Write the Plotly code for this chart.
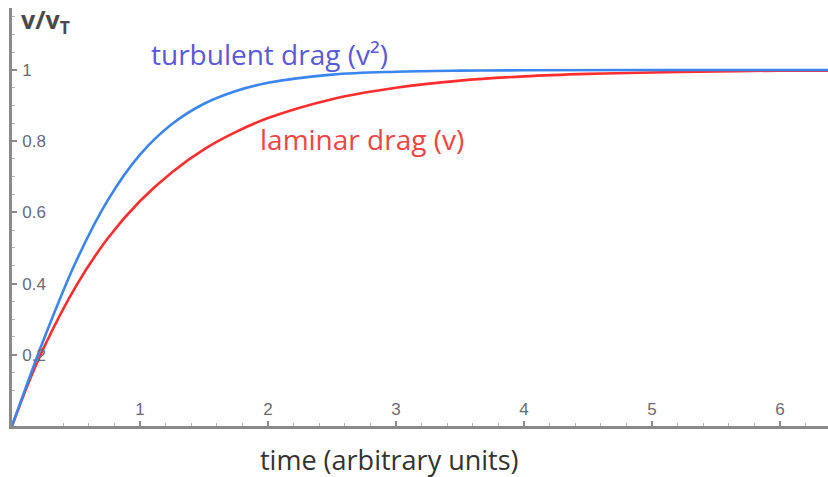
import plotly.graph_objects as go

# time samples (arbitrary units) and normalized speed v/vT for each drag law
t_turb = [0, 0.1, 0.25, 0.5, 0.75, 1.0, 1.25, 1.5, 1.75, 2.0, 2.5, 3.0, 3.5, 4.0, 5.0, 6.4]
v_turb = [0, 0.10, 0.245, 0.462, 0.635, 0.762, 0.848, 0.905, 0.941, 0.964, 0.987, 0.995, 0.998, 0.999, 1.0, 1.0]

t_lam = [0, 0.1, 0.25, 0.5, 0.75, 1.0, 1.25, 1.5, 1.75, 2.0, 2.5, 3.0, 3.5, 4.0, 4.5, 5.0, 5.5, 6.0, 6.4]
v_lam = [0, 0.095, 0.221, 0.393, 0.528, 0.632, 0.713, 0.777, 0.826, 0.865, 0.918, 0.950, 0.970, 0.982, 0.989, 0.993, 0.996, 0.998, 0.998]

x_ticks = [1, 2, 3, 4, 5, 6]
y_ticks = [0.2, 0.4, 0.6, 0.8, 1.0]
y_tick_text = ["0.2", "0.4", "0.6", "0.8", "1"]

BLUE = "#3a86ee"
RED = "#ff2d2d"
AXIS = "#8a8a8a"
FONT = "Open Sans"
TICKFONT = dict(size=17, color="#6a6a78", family="Liberation Sans")

fig = go.Figure()
fig.add_trace(go.Scatter(x=t_lam, y=v_lam, mode="lines",
                         line=dict(color=RED, width=2.6, shape="spline", smoothing=1.0)))
fig.add_trace(go.Scatter(x=t_turb, y=v_turb, mode="lines",
                         line=dict(color=BLUE, width=2.6, shape="spline", smoothing=1.0)))

fig.update_layout(
    width=828, height=477,
    margin=dict(l=12, r=0, t=8, b=51),
    paper_bgcolor="white", plot_bgcolor="white",
    showlegend=False,
    font=dict(family=FONT),
    xaxis=dict(
        range=[0, 6.375], showgrid=False, zeroline=False,
        showline=True, linecolor=AXIS, linewidth=2.5,
        tickvals=x_ticks, ticks="inside", ticklen=5, tickcolor=AXIS, tickwidth=1.5,
        ticklabelposition="inside", ticklabelstandoff=3, tickfont=TICKFONT,
        minor=dict(dtick=0.2, ticks="inside", ticklen=3, tickcolor="#b5b5b5", tickwidth=1),
    ),
    yaxis=dict(
        range=[0, 1.174], showgrid=False, zeroline=False,
        showline=True, linecolor=AXIS, linewidth=2.5,
        tickvals=y_ticks, ticktext=y_tick_text, ticks="inside", ticklen=5,
        tickcolor=AXIS, tickwidth=1.5,
        ticklabelposition="inside", ticklabelstandoff=6, tickfont=TICKFONT,
        minor=dict(dtick=0.05, ticks="inside", ticklen=3, tickcolor="#b5b5b5", tickwidth=1),
    ),
    annotations=[
        dict(text="<b>v/v<sub>T</sub></b>", x=20, y=20, showarrow=False,
             font=dict(size=25, color="#4a4a4a", family=FONT),
             xanchor="left", yanchor="middle", borderpad=0),
        dict(text="turbulent drag (v²)", x=150, y=54, showarrow=False,
             font=dict(size=28, color="#5a5ad8", family=FONT),
             xanchor="left", yanchor="middle", borderpad=0),
        dict(text="laminar drag (v)", x=259, y=139, showarrow=False,
             font=dict(size=28, color="#f04545", family=FONT),
             xanchor="left", yanchor="middle", borderpad=0),
        dict(text="time (arbitrary units)", x=389, y=459, showarrow=False,
             font=dict(size=27, color="#333333", family=FONT),
             xanchor="center", yanchor="middle", borderpad=0),
    ],
)

# annotation positions above are given in pixels; convert to paper coordinates
W, H = 828, 477
L, T, B = 12, 8, 51
pw, ph = W - L, H - T - B
for a in fig.layout.annotations:
    px, py = a.x, a.y
    a.xref = "paper"
    a.yref = "paper"
    a.x = (px - L) / pw
    a.y = (H - B - py) / ph

fig.write_html("out.html")
